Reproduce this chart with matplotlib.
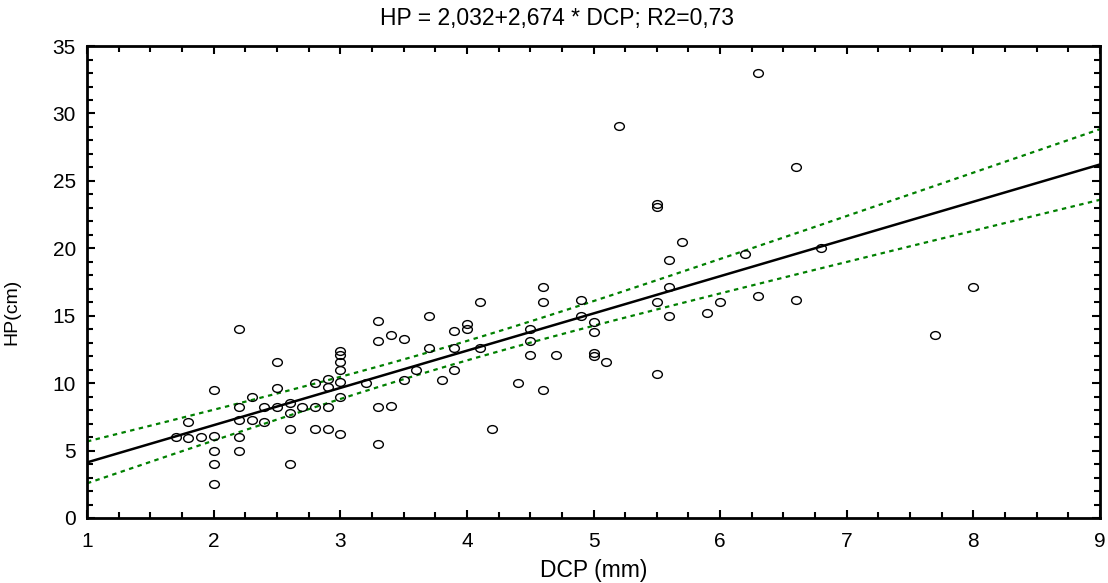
import numpy as np
import matplotlib
matplotlib.use("Agg")
import matplotlib.pyplot as plt
from matplotlib.ticker import MultipleLocator
from matplotlib.path import Path

plt.rcParams['font.family'] = ['Liberation Sans', 'DejaVu Sans']

# pontos (DCP em mm, HP em cm)
dcp = [2.2, 2.5, 2.0, 2.5, 2.3, 2.2, 2.4, 2.5, 2.6, 2.7, 2.8, 2.8,
       1.8, 1.7, 1.8, 1.9, 2.0, 2.0, 2.0, 2.0, 2.2, 2.3, 2.4, 2.2, 2.2,
       2.6, 2.6, 2.6, 2.8,
       4.1, 3.7, 3.3, 4.0, 4.0, 3.9, 3.4, 3.5, 3.3, 3.0, 3.0, 3.0, 3.0,
       3.7, 3.9, 2.9, 2.9, 3.0, 3.0, 2.9, 2.9, 3.0, 3.3, 3.4, 3.3, 3.5,
       3.8, 3.9, 3.2, 3.6, 4.1,
       4.6, 4.6, 4.9, 4.9, 5.0, 5.0, 4.5, 4.5, 4.5, 4.7, 5.0, 5.0, 5.1,
       4.4, 4.6, 4.2,
       6.6, 5.5, 5.5, 5.7, 5.6, 6.2, 5.6, 5.5, 5.6, 6.0, 5.9, 6.3, 6.6, 5.5,
       5.2, 6.3, 6.8, 7.7, 8.0]
hp = [14.0, 11.6, 9.5, 9.65, 9.0, 8.2, 8.2, 8.25, 8.5, 8.2, 10.0, 8.2,
      7.1, 6.0, 5.95, 6.0, 6.1, 5.0, 4.0, 2.5, 7.25, 7.25, 7.1, 6.0, 5.0,
      7.8, 6.6, 4.0, 6.6,
      16.0, 15.0, 14.6, 14.4, 14.0, 13.9, 13.6, 13.25, 13.1, 12.4, 12.1, 11.6, 11.0,
      12.6, 12.6, 10.3, 9.7, 10.1, 9.0, 8.2, 6.6, 6.2, 8.2, 8.3, 5.5, 10.2,
      10.2, 11.0, 10.0, 11.0, 12.6,
      17.1, 16.0, 16.2, 15.0, 14.5, 13.8, 14.0, 13.1, 12.1, 12.1, 12.2, 12.0, 11.6,
      10.0, 9.5, 6.6,
      26.0, 23.3, 23.1, 20.5, 19.1, 19.6, 17.1, 16.0, 15.0, 16.0, 15.2, 16.5, 16.2, 10.7,
      29.1, 33.0, 20.0, 13.6, 17.1]

titulo = "HP = 2,032+2,674 * DCP; R2=0,73"
t_crit = 1.99

x = np.array(dcp)
y = np.array(hp)
n = len(x)

# regressao linear e intervalo de confianca 95%
b1, b0 = np.polyfit(x, y, 1)
res = y - (b0 + b1 * x)
s = np.sqrt(np.sum(res ** 2) / (n - 2))
sxx = np.sum((x - x.mean()) ** 2)
xs = np.linspace(1, 9, 200)
ys = b0 + b1 * xs
hw = t_crit * s * np.sqrt(1 / n + (xs - x.mean()) ** 2 / sxx)

# marcador eliptico (circulo achatado)
circ = Path.unit_circle()
elipse = Path(circ.vertices * [1.25, 1.0], circ.codes)

fig = plt.figure(figsize=(11.08, 5.83), dpi=100)
ax = fig.add_axes([0.0785, 0.1115, 0.9143, 0.8095])

ax.plot(xs, ys + hw, color='#008000', lw=1.6, dashes=(2, 2))
ax.plot(xs, ys - hw, color='#008000', lw=1.6, dashes=(2, 2))
ax.plot(xs, ys, color='black', lw=1.8)
ax.plot(x, y, linestyle='none', marker=elipse, ms=7, mfc='none', mec='black', mew=1.0)

ax.set_xlim(1, 9)
ax.set_ylim(0, 35)
ax.xaxis.set_major_locator(MultipleLocator(1))
ax.xaxis.set_minor_locator(MultipleLocator(0.25))
ax.yaxis.set_major_locator(MultipleLocator(5))
ax.yaxis.set_minor_locator(MultipleLocator(1))
ax.tick_params(which='both', direction='in', top=True, right=True,
               width=1.5, labelsize=15)
ax.tick_params(axis='x', pad=10)
ax.tick_params(axis='y', pad=8)
ax.tick_params(which='major', length=6)
ax.tick_params(which='minor', length=4)
for sp in ax.spines.values():
    sp.set_linewidth(2.0)

fig.text(0.503, 0.968, titulo, fontsize=16.5, ha='center', va='center')
ax.set_xlabel('DCP (mm)', fontsize=16.5, labelpad=6)
ax.set_ylabel('HP(cm)', fontsize=14)
ax.yaxis.set_label_coords(-0.066, 0.436)

fig.savefig('out.png', dpi=100)
